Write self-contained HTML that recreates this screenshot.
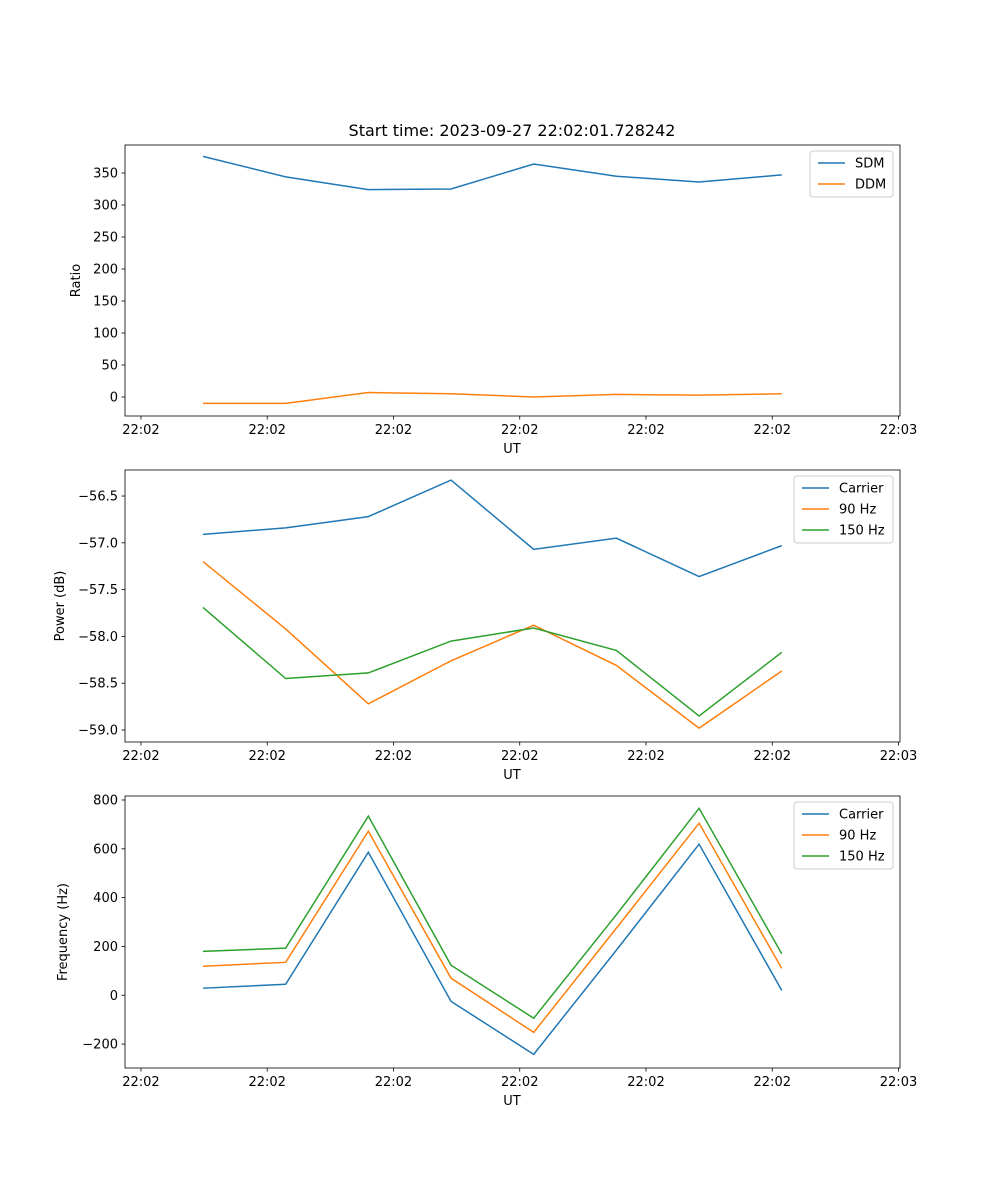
<!DOCTYPE html>
<html><head><meta charset="utf-8"><style>
body{margin:0;background:#fff}
svg{display:block;font-family:"DejaVu Sans","Liberation Sans",sans-serif}
</style></head><body>
<svg id="fig" width="1000" height="1200" viewBox="0 0 1000 1200">
<rect width="1000" height="1200" fill="#fff"/>
<text x="512" y="136" font-size="16" text-anchor="middle">Start time: 2023-09-27 22:02:01.728242</text>
</svg>
<script>
const times=[0,1,2,3,4,5,6,7];
const xTickVals=[-0.75,0.777,2.304,3.831,5.358,6.885,8.412];
const xTickLabels=["22:02","22:02","22:02","22:02","22:02","22:02","22:03"];
const sdm=[376,344,324,325,364,345,336,347];
const ddm=[-10,-10,7,5,0,4,3,5];
const pCarrier=[-56.91,-56.84,-56.72,-56.33,-57.07,-56.95,-57.36,-57.03];
const p90=[-57.20,-57.92,-58.72,-58.26,-57.88,-58.31,-58.98,-58.37];
const p150=[-57.69,-58.45,-58.39,-58.05,-57.91,-58.15,-58.85,-58.17];
const fCarrier=[29,45,586,-25,-242,185,619,20];
const f90=[119,135,672,70,-152,275,705,110];
const f150=[180,193,734,123,-94,330,766,170];
const ratioTicks=[0,50,100,150,200,250,300,350];
const powerTicks=[-59.0,-58.5,-58.0,-57.5,-57.0,-56.5];
const powerTickLabels=["−59.0","−58.5","−58.0","−57.5","−57.0","−56.5"];
const freqTicks=[-200,0,200,400,600,800];
const freqTickLabels=["−200","0","200","400","600","800"];
const C=["#1f77b4","#ff7f0e","#2ca02c"];
const NS="http://www.w3.org/2000/svg";
const svg=document.getElementById('fig');
function mk(tag,attrs,parent){const e=document.createElementNS(NS,tag);for(const k in attrs)e.setAttribute(k,attrs[k]);(parent||svg).appendChild(e);return e;}
const X0=125,X1=900,T0=-0.943,T1=8.43;
function xs(t){return X0+(t-T0)/(T1-T0)*(X1-X0);}
function panel(name,top,bot,vmin,vmax,yt,ytl,ylabel,series,names,legendW){
  const g=mk('g',{});
  
  
  const ys=v=>bot-(v-vmin)/(vmax-vmin)*(bot-top);
  series.forEach((s,i)=>{
    const p=mk('polyline',{points:s.map((v,j)=>xs(times[j])+','+ys(v)).join(' '),fill:'none',stroke:C[i],'stroke-width':1.5},g);
    
    
  });
  const fr=mk('rect',{x:X0,y:top,width:X1-X0,height:bot-top,fill:'none',stroke:'#000','stroke-width':0.8},g);
  
  
  xTickVals.forEach((t,i)=>{
    const x=xs(t);
    mk('line',{x1:x,x2:x,y1:bot,y2:bot+3.5,stroke:'#000','stroke-width':0.8},g);
    const tx=mk('text',{x:x,y:bot+18,'font-size':13,'text-anchor':'middle'},g);
    tx.textContent=xTickLabels[i];
    
    
  });
  yt.forEach((v,i)=>{
    const y=ys(v);
    mk('line',{x1:X0-3.5,x2:X0,y1:y,y2:y,stroke:'#000','stroke-width':0.8},g);
    const tx=mk('text',{x:X0-7,y:y+4.5,'font-size':13,'text-anchor':'end'},g);
    tx.textContent=ytl[i];
    
    
  });
  const xl=mk('text',{x:512,y:bot+37,'font-size':13,'text-anchor':'middle'},g);
  xl.textContent='UT';
  
  
  const yx=name==='ratio'?80:name==='power'?64:67;
  const yl=mk('text',{x:yx,y:(top+bot)/2,'font-size':13,'text-anchor':'middle',transform:`rotate(-90 ${yx} ${(top+bot)/2})`},g);
  yl.textContent=ylabel;
  
  
  const lx=X1-7-legendW, ly=top+6, lh=4+names.length*21;
  const lg=mk('g',{},g);
  
  
  mk('rect',{x:lx,y:ly,width:legendW,height:lh,rx:3,fill:'#fff','fill-opacity':0.8,stroke:'#ccc'},lg);
  names.forEach((n,i)=>{
    const yy=ly+12+i*21;
    mk('line',{x1:lx+8,x2:lx+35,y1:yy,y2:yy,stroke:C[i],'stroke-width':1.5},lg);
    const t=mk('text',{x:lx+45,y:yy+4.5,'font-size':13},lg);
    t.textContent=n;
    
    
  });
}
panel('ratio',145,416,-29.7,393.75,ratioTicks,ratioTicks.map(String),'Ratio',[sdm,ddm],['SDM','DDM'],83);
panel('power',470,742,-59.128,-56.222,powerTicks,powerTickLabels,'Power (dB)',[pCarrier,p90,p150],['Carrier','90 Hz','150 Hz'],99);
panel('frequency',796,1068,-298,816.4,freqTicks,freqTickLabels,'Frequency (Hz)',[fCarrier,f90,f150],['Carrier','90 Hz','150 Hz'],99);
</script>
</body></html>
